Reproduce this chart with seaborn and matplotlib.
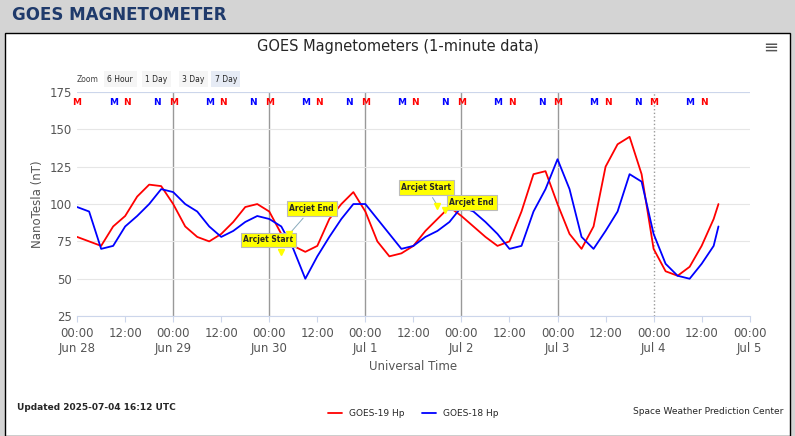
import numpy as np
import pandas as pd
import matplotlib
matplotlib.use("Agg")
import matplotlib.pyplot as plt
import seaborn as sns
from matplotlib.patches import Rectangle

# hours since 2025-06-28 00:00 UTC, 3-hour steps, last point 16:12 on Jul 4
hours = list(range(0, 160, 3)) + [160.2]
goes19 = [78, 75, 72, 85, 92, 105, 113, 112,
          100, 85, 78, 75, 80, 88, 98, 100,
          95, 80, 72, 68, 72, 90, 100, 108,
          95, 75, 65, 67, 72, 82, 90, 98,
          92, 85, 78, 72, 75, 95, 120, 122,
          100, 80, 70, 85, 125, 140, 145, 120,
          70, 55, 52, 58, 72, 90, 100]
goes18 = [98, 95, 70, 72, 85, 92, 100, 110,
          108, 100, 95, 85, 78, 82, 88, 92,
          90, 85, 70, 50, 65, 78, 90, 100,
          100, 90, 80, 70, 72, 78, 82, 88,
          98, 95, 88, 80, 70, 72, 95, 110,
          130, 110, 78, 70, 82, 95, 120, 115,
          80, 60, 52, 50, 60, 72, 85]

day_labels = ["Jun 28", "Jun 29", "Jun 30", "Jul 1", "Jul 2", "Jul 3", "Jul 4", "Jul 5"]
y_ticks = [25, 50, 75, 100, 125, 150, 175]

# noon/midnight markers at the top of the plot (hours)
red_m = [0, 24, 48, 72, 96, 120, 144]
red_n = [12.5, 36.5, 60.5, 84.5, 108.5, 132.5, 156.5]
blue_m = [9, 33, 57, 81, 105, 129, 153]
blue_n = [20, 44, 68, 92, 116, 140]

# label, event hour, event value, label hour, label value
events = [("Arcjet Start", 51, 68, 41.5, 76), ("Arcjet End", 53, 80, 53, 97),
          ("Arcjet Start", 90, 99, 81, 111), ("Arcjet End", 92, 96, 93, 101)]

df = pd.concat([
    pd.DataFrame({"hour": hours, "nT": goes19, "series": "GOES-19 Hp"}),
    pd.DataFrame({"hour": hours, "nT": goes18, "series": "GOES-18 Hp"}),
])

sns.set_style("white")
plt.rcParams["font.family"] = ["DejaVu Sans"]

fig = plt.figure(figsize=(7.95, 4.36), dpi=100)
fig.patch.set_facecolor("#d4d4d4")
fig.patches.append(Rectangle((0.006, 0.0), 0.988, 0.925, transform=fig.transFigure,
                             facecolor="white", edgecolor="black", lw=1, zorder=-10))
fig.text(0.015, 0.965, "GOES MAGNETOMETER", color="#1f3a6b", fontsize=12,
         fontweight="bold", va="center")
fig.text(0.5, 0.893, "GOES Magnetometers (1-minute data)", fontsize=10.5, ha="center", va="center")
fig.text(0.97, 0.89, "≡", fontsize=13, ha="center", va="center", color="#555")
fig.text(0.097, 0.818, "Zoom", fontsize=5.5, color="#444", va="center")
for i, (lab, xp) in enumerate([("6 Hour", 0.135), ("1 Day", 0.183), ("3 Day", 0.229), ("7 Day", 0.27)]):
    fig.text(xp, 0.818, lab, fontsize=5.5, va="center",
             bbox=dict(facecolor="#e6ebf5" if i == 3 else "#f5f5f5", edgecolor="none", pad=2.5))

ax = fig.add_axes([0.097, 0.275, 0.846, 0.514])
ax.set_facecolor("none")
sns.lineplot(data=df, x="hour", y="nT", hue="series", palette=["red", "blue"],
             lw=1.3, ax=ax, legend=True)
ax.set_xlim(0, 168)
ax.set_ylim(25, 175)
ax.set_yticks(y_ticks)
ax.set_xticks(np.arange(0, 169, 12))
xl = []
for i in range(15):
    xl.append("00:00\n" + day_labels[i // 2] if i % 2 == 0 else "12:00")
ax.set_xticklabels(xl, color="#555", fontsize=8.5)
ax.tick_params(axis="y", colors="#555", labelsize=8.5, length=0)
ax.tick_params(axis="x", length=4, color="#ccd6eb", bottom=True)
ax.grid(axis="y", color="#e6e6e6", lw=0.8)
for s in ["top", "right", "left"]:
    ax.spines[s].set_visible(False)
ax.spines["bottom"].set_color("#ccd6eb")
for h in range(24, 168, 24):
    ax.axvline(h, color="#999", lw=1, ls=":" if h == 144 else "-", zorder=0)
ax.axhline(175, color="#ccd6eb", lw=1.5)
for xs, letter, col in [(red_m, "M", "red"), (red_n, "N", "red"), (blue_m, "M", "blue"), (blue_n, "N", "blue")]:
    for h in xs:
        ax.text(h, 168, letter, color=col, fontsize=6.5, fontweight="bold", ha="center", va="center")
for lab, hx, hy, tx, ty in events:
    ax.annotate(lab, xy=(hx, hy), xytext=(tx, ty), fontsize=5.5, fontweight="bold",
                ha="left", va="center",
                bbox=dict(boxstyle="square,pad=0.35", fc="yellow", ec="#bbb", lw=0.8),
                arrowprops=dict(arrowstyle="-", color="#8ab", lw=0.7))
    ax.plot(hx, hy, marker="v", color="yellow", ms=4, zorder=5)
ax.set_xlabel("Universal Time", color="#555", fontsize=8.5)
ax.set_ylabel("NanoTesla (nT)", color="#555", fontsize=8.5)
ax.legend(loc="upper center", bbox_to_anchor=(0.5, -0.38), ncol=2, frameon=False,
          fontsize=6.5, handlelength=1.5)
fig.text(0.022, 0.06, "Updated 2025-07-04 16:12 UTC", fontsize=6.5, fontweight="bold")
fig.text(0.985, 0.05, "Space Weather Prediction Center", fontsize=6.5, ha="right")
fig.savefig("out.png", dpi=100, facecolor=fig.get_facecolor())
